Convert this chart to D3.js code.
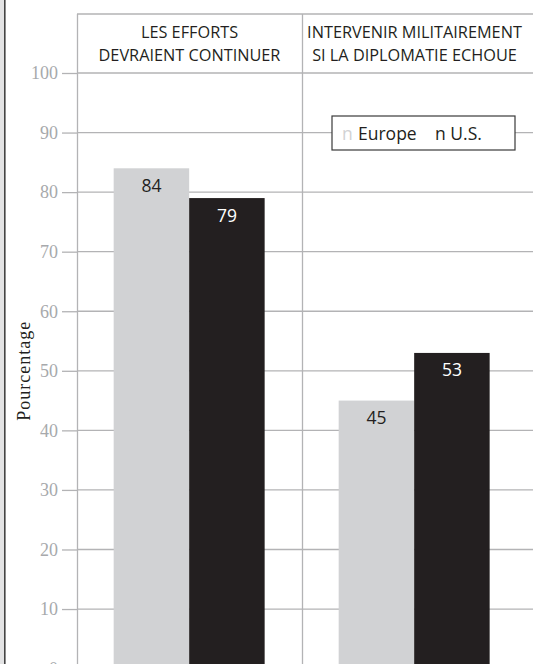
<!DOCTYPE html>
<html>
<head>
<meta charset="utf-8">
<script src="https://cdn.jsdelivr.net/npm/d3@7"></script>
<style>
  html, body { margin: 0; padding: 0; background: #fff; }
  svg { display: block; }
</style>
</head>
<body>
<script>
// Survey answers (percent), one bar per region in each question panel
const categories = ["LES EFFORTS|DEVRAIENT CONTINUER", "INTERVENIR MILITAIREMENT|SI LA DIPLOMATIE ECHOUE"];
const series = ["Europe", "U.S."];
const europeValues = [84, 45];
const usValues = [79, 53];
const yTicks = [0, 10, 20, 30, 40, 50, 60, 70, 80, 90, 100];
const seriesColors = ["#d1d2d4", "#231f20"];
const labelColors = ["#231f20", "#ffffff"];

const W = 533, H = 664;
const left = 77, right = 527, headerTop = 14;
const plotTop = 73, plotBottom = 668.6;

const svg = d3.select("body").append("svg").attr("width", W).attr("height", H);

// page frame on the left edge
svg.append("rect").attr("x", 0).attr("y", 0).attr("width", 4).attr("height", H).attr("fill", "#e3e3e4");
svg.append("rect").attr("x", 4).attr("y", 0).attr("width", 1.6).attr("height", H).attr("fill", "#444");

const y = d3.scaleLinear().domain([0, 100]).range([plotBottom, plotTop]);
const x0 = d3.scaleBand().domain(categories).range([left, right]).paddingInner(0).paddingOuter(0);
const bw = x0.bandwidth();
const x1 = d3.scaleBand().domain(series).range([bw * 0.163, bw * 0.834]).padding(0);

const gridColor = "#b3b3b5";

// horizontal gridlines with ticks and serif labels
const yAxis = d3.axisLeft(y).tickValues(yTicks).tickSize(15).tickPadding(4);
const ga = svg.append("g").attr("transform", `translate(${left},0)`).call(yAxis);
ga.select(".domain").remove();
ga.selectAll(".tick line").attr("stroke", gridColor).attr("stroke-width", 1.3);
ga.selectAll(".tick text")
  .attr("fill", "#a7a9ac")
  .attr("font-family", "'Liberation Serif', serif")
  .attr("font-size", 18);
svg.append("g").selectAll("line").data(yTicks).join("line")
  .attr("x1", left).attr("x2", W)
  .attr("y1", d => y(d)).attr("y2", d => y(d))
  .attr("stroke", gridColor).attr("stroke-width", 1.3);

// header top rule and panel dividers
svg.append("line").attr("x1", left).attr("x2", W).attr("y1", headerTop).attr("y2", headerTop)
  .attr("stroke", gridColor).attr("stroke-width", 1.3);
svg.append("g").selectAll("line").data(categories).join("line")
  .attr("x1", d => x0(d) + 0.5).attr("x2", d => x0(d) + 0.5)
  .attr("y1", headerTop).attr("y2", H)
  .attr("stroke", gridColor).attr("stroke-width", 1.3);

// panel headers
const head = svg.append("g").selectAll("text").data(categories).join("text")
  .attr("x", d => x0(d) + bw / 2)
  .attr("text-anchor", "middle")
  .attr("font-family", "'Open Sans', sans-serif")
  .attr("font-size", 16.3)
  .attr("fill", "#231f20");
head.each(function (d) {
  const lines = d.split("|");
  d3.select(this).selectAll("tspan").data(lines).join("tspan")
    .attr("x", x0(d) + bw / 2)
    .attr("y", (l, i) => 38 + i * 23)
    .text(l => l);
});

// bars
const rows = categories.map((c, i) => ({ cat: c, vals: [europeValues[i], usValues[i]] }));
const groups = svg.append("g").selectAll("g").data(rows).join("g")
  .attr("transform", d => `translate(${x0(d.cat)},0)`);
const cells = groups.selectAll("g").data(d => d.vals.map((v, j) => ({ s: series[j], v, j }))).join("g");
cells.append("rect")
  .attr("x", d => x1(d.s))
  .attr("width", x1.bandwidth())
  .attr("y", d => y(d.v))
  .attr("height", d => y(0) - y(d.v))
  .attr("fill", d => seriesColors[d.j]);
cells.append("text")
  .attr("x", d => x1(d.s) + x1.bandwidth() / 2)
  .attr("y", d => y(d.v) + 23.5)
  .attr("text-anchor", "middle")
  .attr("font-family", "'Open Sans', sans-serif")
  .attr("font-size", 17.5)
  .attr("fill", d => labelColors[d.j])
  .text(d => d.v);

// legend
const lg = svg.append("g");
lg.append("rect").attr("x", 332).attr("y", 116).attr("width", 183).attr("height", 34)
  .attr("fill", "#fff").attr("stroke", "#3a3a3a").attr("stroke-width", 1.2);
const lt = lg.append("text").attr("y", 140)
  .attr("font-family", "'Open Sans', sans-serif").attr("font-size", 17.5).attr("fill", "#231f20");
lt.append("tspan").attr("x", 342).attr("fill", "#d1d2d4").text("n");
lt.append("tspan").attr("x", 358).text(series[0]);
lt.append("tspan").attr("x", 435).text("n " + series[1]);

// y axis title
svg.append("text")
  .attr("transform", `translate(30,${(plotTop + plotBottom) / 2}) rotate(-90)`)
  .attr("text-anchor", "middle")
  .attr("font-family", "'Liberation Serif', serif")
  .attr("font-size", 18)
  .attr("letter-spacing", 1)
  .attr("fill", "#231f20")
  .text("Pourcentage");
</script>
</body>
</html>
